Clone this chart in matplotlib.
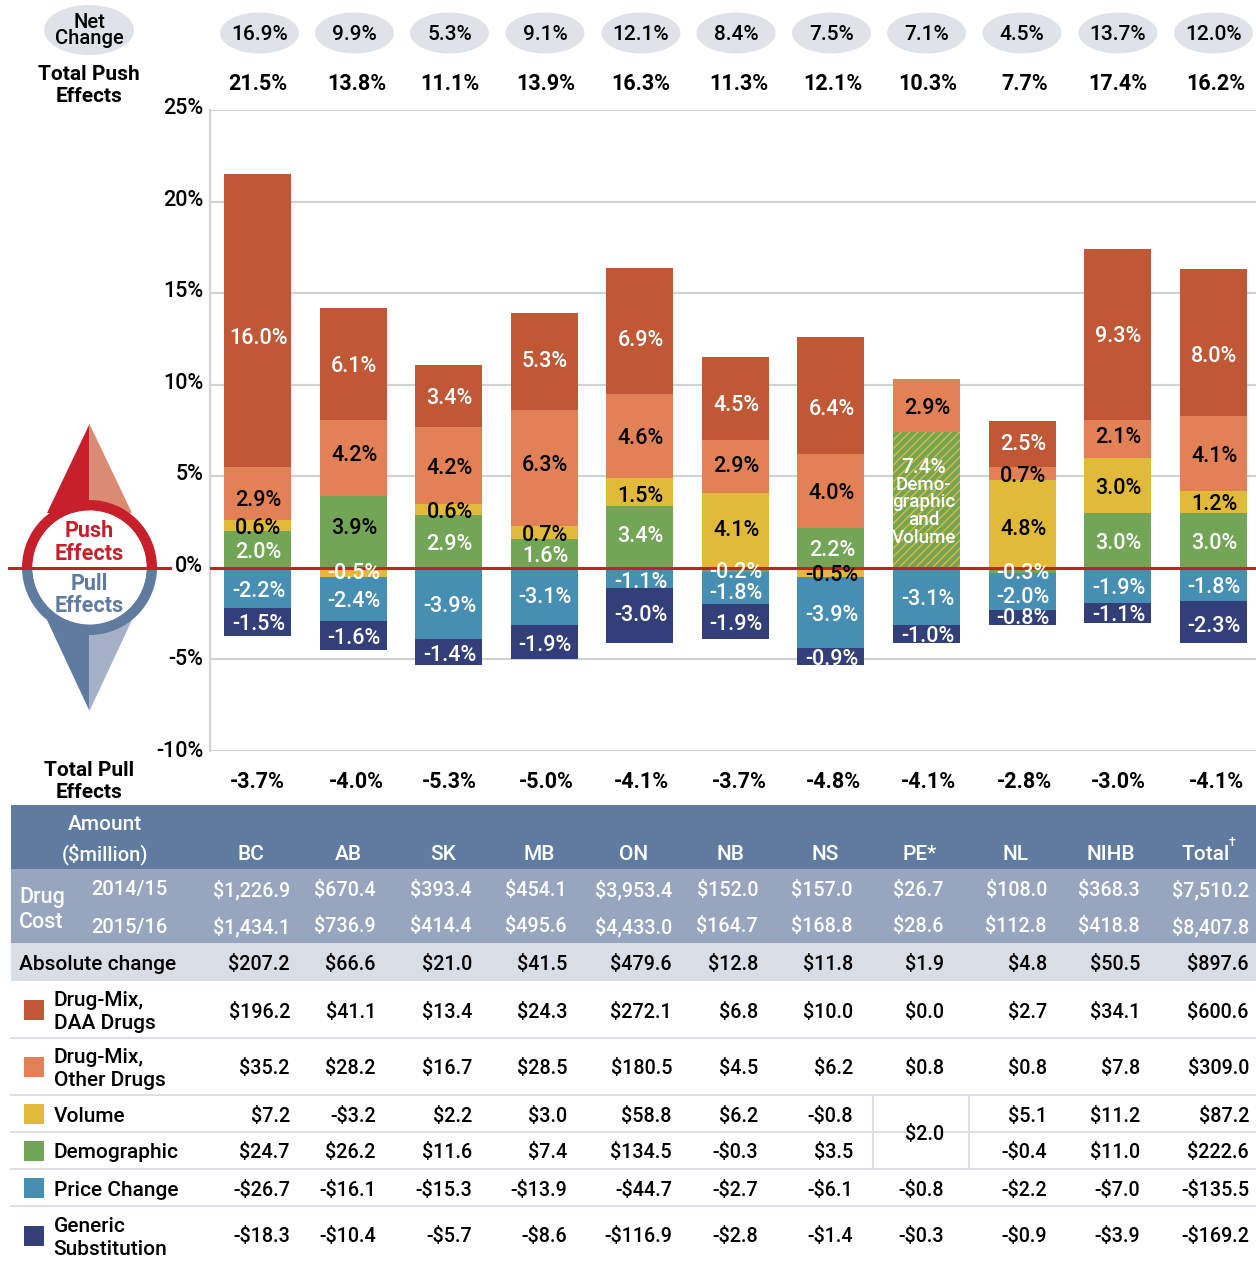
import matplotlib
matplotlib.use('Agg')
import matplotlib.pyplot as plt
import matplotlib.patches as patches
from matplotlib.transforms import ScaledTranslation
import numpy as np

plt.rcParams['font.family'] = ['Roboto', 'DejaVu Sans']
plt.rcParams['font.weight'] = 'medium'
plt.rcParams['hatch.linewidth'] = 1.0

W, H = 1256, 1261

# chart data, percent
net_change = ['16.9%', '9.9%', '5.3%', '9.1%', '12.1%', '8.4%', '7.5%', '7.1%', '4.5%', '13.7%', '12.0%']
total_push = ['21.5%', '13.8%', '11.1%', '13.9%', '16.3%', '11.3%', '12.1%', '10.3%', '7.7%', '17.4%', '16.2%']
total_pull = ['-3.7%', '-4.0%', '-5.3%', '-5.0%', '-4.1%', '-3.7%', '-4.8%', '-4.1%', '-2.8%', '-3.0%', '-4.1%']
daa = [16.0, 6.1, 3.4, 5.3, 6.9, 4.5, 6.4, 0.0, 2.5, 9.3, 8.0]
other = [2.9, 4.2, 4.2, 6.3, 4.6, 2.9, 4.0, 2.9, 0.7, 2.1, 4.1]
volume = [0.6, -0.5, 0.6, 0.7, 1.5, 4.1, -0.5, 0.0, 4.8, 3.0, 1.2]
demographic = [2.0, 3.9, 2.9, 1.6, 3.4, -0.2, 2.2, 0.0, -0.3, 3.0, 3.0]
demo_volume = [0, 0, 0, 0, 0, 0, 0, 7.4, 0, 0, 0]
price = [-2.2, -2.4, -3.9, -3.1, -1.1, -1.8, -3.9, -3.1, -2.0, -1.9, -1.8]
generic = [-1.5, -1.6, -1.4, -1.9, -3.0, -1.9, -0.9, -1.0, -0.8, -1.1, -2.3]

# table data
columns = ['BC', 'AB', 'SK', 'MB', 'ON', 'NB', 'NS', 'PE*', 'NL', 'NIHB', 'Total']
cost_1415 = ['$1,226.9', '$670.4', '$393.4', '$454.1', '$3,953.4', '$152.0', '$157.0', '$26.7', '$108.0', '$368.3', '$7,510.2']
cost_1516 = ['$1,434.1', '$736.9', '$414.4', '$495.6', '$4,433.0', '$164.7', '$168.8', '$28.6', '$112.8', '$418.8', '$8,407.8']
abs_change = ['$207.2', '$66.6', '$21.0', '$41.5', '$479.6', '$12.8', '$11.8', '$1.9', '$4.8', '$50.5', '$897.6']
row_daa = ['$196.2', '$41.1', '$13.4', '$24.3', '$272.1', '$6.8', '$10.0', '$0.0', '$2.7', '$34.1', '$600.6']
row_other = ['$35.2', '$28.2', '$16.7', '$28.5', '$180.5', '$4.5', '$6.2', '$0.8', '$0.8', '$7.8', '$309.0']
row_volume = ['$7.2', '-$3.2', '$2.2', '$3.0', '$58.8', '$6.2', '-$0.8', '', '$5.1', '$11.2', '$87.2']
row_demo = ['$24.7', '$26.2', '$11.6', '$7.4', '$134.5', '-$0.3', '$3.5', '', '-$0.4', '$11.0', '$222.6']
row_price = ['-$26.7', '-$16.1', '-$15.3', '-$13.9', '-$44.7', '-$2.7', '-$6.1', '-$0.8', '-$2.2', '-$7.0', '-$135.5']
row_generic = ['-$18.3', '-$10.4', '-$5.7', '-$8.6', '-$116.9', '-$2.8', '-$1.4', '-$0.3', '-$0.9', '-$3.9', '-$169.2']

RUST = '#c05836'
ORANGE = '#e28156'
YELLOW = '#e2ba3a'
GREEN = '#72a556'
TEAL = '#468fb2'
NAVY = '#323f78'
RED = '#c8202a'
SLATE = '#5f7ca0'
GRID = '#d2d2d2'

# right edge of the numbers in each table column, in pixels
col_right = [290, 376, 472, 567, 672, 758, 853, 944, 1047, 1140, 1249]
col_head = [251, 348, 443, 539, 634, 730, 825, 920, 1016, 1111, 1206]
top_x = [259.5, 354.5, 449.5, 545, 641, 736, 831.5, 926.5, 1022, 1118, 1213.5]
total_x = [257.5, 356.5, 449.5, 546, 641, 739, 833, 928, 1024.5, 1118, 1216]

fig = plt.figure(figsize=(W / 100, H / 100), dpi=100)

# page axes in pixel coordinates, for the table and the decorations
page = fig.add_axes([0, 0, 1, 1])
page.set_xlim(0, W)
page.set_ylim(H, 0)
page.axis('off')

# chart axes
left, right, top, bottom = 210, 1256, 110, 751
ax = fig.add_axes([left / W, 1 - bottom / H, (right - left) / W, (bottom - top) / H])
ax.patch.set_alpha(0)
step = 95.57
ax.set_xlim((left - 257.5) / step, (right - 257.5) / step)
ax.set_ylim(-10, 25)
ax.set_yticks([-10, -5, 0, 5, 10, 15, 20, 25])
ax.set_yticklabels(['-10%', '-5%', '0%', '5%', '10%', '15%', '20%', '25%'], fontsize=15.5)
ax.set_xticks([])
ax.tick_params(axis='y', length=0, pad=5)
tick_lift = [2, 2, 4, 4, 4, 4, 4, 4]
for lab, lift in zip(ax.get_yticklabels(), tick_lift):
    lab.set_transform(lab.get_transform() + ScaledTranslation(0, lift / 100, fig.dpi_scale_trans))
ax.grid(axis='y', color=GRID, lw=1.6)
ax.set_axisbelow(True)
for s in ['top', 'right', 'bottom']:
    ax.spines[s].set_visible(False)
ax.spines['left'].set_color(GRID)
ax.spines['left'].set_linewidth(1.6)

x = np.arange(len(daa))
pos = np.zeros(len(x))
neg = np.zeros(len(x))
# label tweaks: (bar, series) -> pixels moved down from the middle of the segment
nudge = {
    (0, 'other'): 4, (0, 'daa'): 15,
    (1, 'other'): -5, (1, 'demographic'): -7, (1, 'volume'): -2,
    (3, 'daa'): -3, (3, 'other'): -6, (3, 'price'): -2,
    (4, 'daa'): 7, (4, 'volume'): 2, (4, 'demographic'): -3, (4, 'price'): 2, (4, 'generic'): -3,
    (5, 'daa'): 4, (5, 'other'): -3, (5, 'volume'): -3, (5, 'price'): 2,
    (6, 'daa'): 11,
    (8, 'daa'): -3, (8, 'volume'): 3, (8, 'price'): 3, (8, 'generic'): -2,
    (9, 'other'): -4, (9, 'daa'): -1,
    (10, 'daa'): 11, (10, 'generic'): 2,
}
series = [
    ('demographic', demographic, GREEN, 'white'),
    ('demo_volume', demo_volume, GREEN, 'white'),
    ('volume', volume, YELLOW, 'black'),
    ('other', other, ORANGE, 'black'),
    ('daa', daa, RUST, 'white'),
    ('price', price, TEAL, 'white'),
    ('generic', generic, NAVY, 'white'),
]
labels = []
for name, vals, color, tcolor in series:
    for i, v in enumerate(vals):
        if v == 0:
            continue
        base = pos[i] if v > 0 else neg[i]
        if name == 'demo_volume':
            ax.bar(i, v, 0.7, bottom=base, facecolor=color, edgecolor=YELLOW, hatch='////', lw=0, zorder=3)
        else:
            ax.bar(i, v, 0.7, bottom=base, color=color, zorder=3)
        if v > 0:
            pos[i] += v
        else:
            neg[i] += v
        c = tcolor
        if i == 1 and name == 'demographic':
            c = 'black'
        if i == 1 and name == 'volume':
            c = 'white'
        labels.append((i, base + v / 2, f'{v:.1f}%', c, nudge.get((i, name), 0) + 3, name))

ax.axhline(0, color=RED, lw=2.2, zorder=5)
for i, y, s, c, dy, name in labels:
    if name == 'demo_volume':
        ax.text(i - 0.03, y + 1.8, s, color='white', ha='center', va='center', fontsize=15, zorder=6)
        ax.text(i - 0.03, y - 0.6, 'Demo-\ngraphic\nand\nVolume', color='white', ha='center', va='center',
                fontsize=13.5, linespacing=0.98, zorder=6)
        continue
    ax.annotate(s, (i + 0.01, y), xytext=(0, -dy * 0.72), textcoords='offset points', color=c,
                ha='center', va='center', fontsize=15.5, zorder=6)

# header ellipses and totals
page.add_patch(patches.Ellipse((89, 30), 90, 50, color='#dfe2e9', lw=0))
page.text(89, 31, 'Net\nChange', ha='center', va='center', fontsize=14.5, linespacing=0.8)
page.text(89, 85.5, 'Total Push\nEffects', ha='center', va='center', fontsize=15, fontweight='bold', linespacing=1.2)
page.text(89, 781.5, 'Total Pull\nEffects', ha='center', va='center', fontsize=15, fontweight='bold', linespacing=1.2)
for i, tx in enumerate(top_x):
    page.add_patch(patches.Ellipse((tx, 33), 79, 41, color='#dfe2e9', lw=0))
    page.text(tx, 35, net_change[i], ha='center', va='center', fontsize=15)
    page.text(total_x[i], 84, total_push[i], ha='center', va='center', fontsize=15.5, fontweight='bold')
    page.text(total_x[i], 782, total_pull[i], ha='center', va='center', fontsize=15.5, fontweight='bold')

# compass on the left
cx, cy = 89.5, 567.5
page.add_patch(patches.Polygon([(cx, 424), (47, 513), (cx, 513)], color=RED, lw=0))
page.add_patch(patches.Polygon([(cx, 424), (132, 513), (cx, 513)], color='#dc8b73', lw=0))
page.add_patch(patches.Polygon([(cx, 711), (47, 620), (cx, 620)], color=SLATE, lw=0))
page.add_patch(patches.Polygon([(cx, 711), (132, 620), (cx, 620)], color='#a6b1c8', lw=0))
page.add_patch(patches.Wedge((cx, cy), 67.5, 180, 360, width=10.5, color=RED, lw=0))
page.add_patch(patches.Wedge((cx, cy), 67.5, 0, 180, width=10.5, color=SLATE, lw=0))
page.add_patch(patches.Circle((cx, cy), 57, color='white', lw=0))
page.plot([9, 170], [cy, cy], color=RED, lw=2.2)
page.text(cx, 542.5, 'Push\nEffects', color=RED, ha='center', va='center', fontsize=15.5, fontweight='bold', linespacing=1.05)
page.text(cx, 594.5, 'Pull\nEffects', color=SLATE, ha='center', va='center', fontsize=15.5, fontweight='bold', linespacing=1.0)

# table bands
page.add_patch(patches.Rectangle((11, 805), W - 11, 64, color=SLATE, lw=0))
page.add_patch(patches.Rectangle((11, 869), W - 11, 74, color='#97a5bf', lw=0))
page.add_patch(patches.Rectangle((11, 943), W - 11, 38, color='#d8dde6', lw=0))
for ly in [1038, 1095, 1132, 1169, 1206]:
    page.plot([11, W], [ly, ly], color='#dcdfe6', lw=1.4)
page.plot([873, 873], [1095, 1169], color='#dcdfe6', lw=1.4)
page.plot([968.5, 968.5], [1095, 1169], color='#dcdfe6', lw=1.4)

page.text(105, 825, 'Amount', color='white', ha='center', va='center', fontsize=15)
page.text(105, 854, '($million)', color='white', ha='center', va='center', fontsize=14.5)
for hx, name in zip(col_head, columns):
    page.text(hx, 854, name, color='white', ha='center', va='center', fontsize=15)
page.text(1232, 842, '†', color='white', ha='center', va='center', fontsize=9)

page.text(19, 897, 'Drug', color='white', ha='left', va='center', fontsize=15.5)
page.text(19, 923, 'Cost', color='white', ha='left', va='center', fontsize=15.5)
page.text(91, 890, '2014/15', color='white', ha='left', va='center', fontsize=14.5)
page.text(91, 927, '2015/16', color='white', ha='left', va='center', fontsize=14.5)
page.text(19, 965, 'Absolute change', ha='left', va='center', fontsize=15)

rows = [
    (cost_1415, 890, 'white'),
    (cost_1516, 927, 'white'),
    (abs_change, 965, 'black'),
    (row_daa, 1012, 'black'),
    (row_other, 1069, 'black'),
    (row_volume, 1116, 'black'),
    (row_demo, 1153, 'black'),
    (row_price, 1190, 'black'),
    (row_generic, 1237, 'black'),
]
for vals, ry, c in rows:
    for rx, s in zip(col_right, vals):
        page.text(rx, ry, s, color=c, ha='right', va='center', fontsize=14.2)
page.text(944, 1135, '$2.0', ha='right', va='center', fontsize=14.2)

legend_rows = [
    (RUST, 1010, 'Drug-Mix,\nDAA Drugs'),
    (ORANGE, 1067, 'Drug-Mix,\nOther Drugs'),
    (YELLOW, 1114, 'Volume'),
    (GREEN, 1151, 'Demographic'),
    (TEAL, 1188, 'Price Change'),
    (NAVY, 1236, 'Generic\nSubstitution'),
]
for color, ry, s in legend_rows:
    page.add_patch(patches.Rectangle((24, ry - 10), 20, 20, color=color, lw=0))
    page.text(53.5, ry + 2, s, ha='left', va='center', fontsize=15, linespacing=1.3)

fig.savefig('out.png', dpi=100)
